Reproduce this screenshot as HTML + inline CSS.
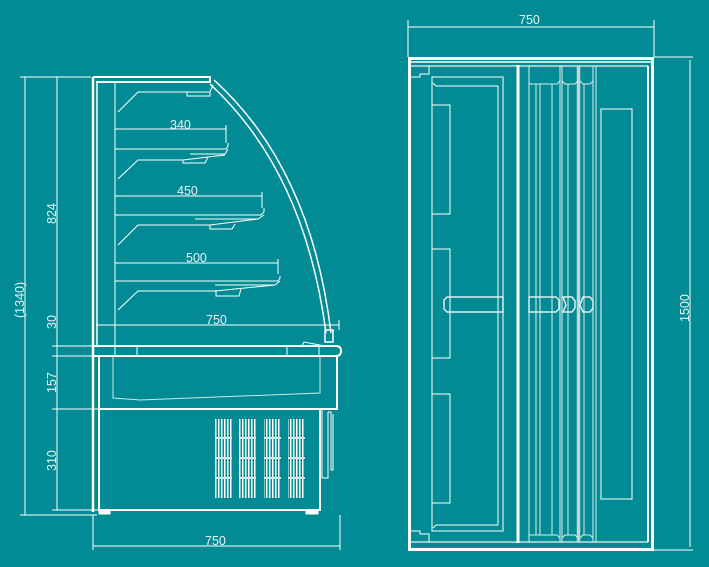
<!DOCTYPE html>
<html><head><meta charset="utf-8"><style>
html,body{margin:0;padding:0;background:#028b94;}
svg{display:block}
text{font-family:"Liberation Sans",sans-serif;font-size:12.5px;fill:#e8f4f4;}
</style></head><body>
<svg width="709" height="567" viewBox="0 0 709 567" xmlns="http://www.w3.org/2000/svg">
<defs>
<pattern id="gr" x="215" y="0" width="3" height="10" patternUnits="userSpaceOnUse">
<rect x="0" y="0" width="1.5" height="10" fill="#fff"/>
</pattern>
</defs>
<rect width="709" height="567" fill="#028b94"/>
<g stroke="#fff" fill="none" stroke-width="1">
<line x1="25" y1="77" x2="25" y2="515"/>
<line x1="20" y1="77" x2="91" y2="77"/>
<line x1="20" y1="515" x2="97" y2="515"/>
<line x1="57" y1="77" x2="57" y2="510"/>
<line x1="52" y1="346" x2="93" y2="346"/>
<line x1="52" y1="356" x2="93" y2="356"/>
<line x1="52" y1="409" x2="99" y2="409"/>
<line x1="52" y1="510" x2="99" y2="510"/>
<line x1="93" y1="515" x2="93" y2="550"/>
<line x1="340" y1="515" x2="340" y2="550"/>
<line x1="93" y1="546" x2="340" y2="546"/>
<path d="M93,77 H210 V82 H96" stroke-width="2"/>
<line x1="93" y1="77" x2="93" y2="512" stroke-width="2.5"/>
<line x1="97" y1="82" x2="97" y2="346" stroke-width="1.5"/>
<line x1="115" y1="82" x2="115" y2="356"/>
<path d="M214,80 Q311,168 331,333" stroke-width="1.5"/>
<path d="M210,84 Q305,172 326,333" stroke-width="1.5"/>
<rect x="325" y="330" width="8" height="12" stroke-width="1.5"/>
<path d="M118,112 L138,92 H210 L213,85"/>
<rect x="187" y="92" width="23" height="4"/>
<path d="M115,149 H226 L228,146 V143 M228,149 L225,154 H190"/>
<path d="M118,179 L138,160 H183 L225,155"/>
<path d="M183,160 V163 H205 L208,157"/>
<line x1="115" y1="129" x2="226" y2="129"/><line x1="226" y1="125" x2="226" y2="143"/>
<path d="M115,215 H261 L264,212 V208 M264,215 L258,219 H195"/>
<path d="M115,215 V245 M118,245 L138,225 H210 L258,219"/>
<path d="M210,225 V229 H232 L235,224"/>
<line x1="115" y1="196" x2="262" y2="196"/><line x1="262" y1="192" x2="262" y2="208"/>
<path d="M115,281 H278 L280,278 V276 M280,281 L275,285 H215"/>
<path d="M118,310 L138,291 H215 L275,285"/>
<path d="M216,290 V296 H239 L241,289"/>
<line x1="115" y1="263" x2="278" y2="263"/><line x1="278" y1="259" x2="278" y2="274"/>
<line x1="96" y1="325" x2="339" y2="325"/><line x1="339" y1="320" x2="339" y2="330"/>
<path d="M93,346 H336 Q341,346 341,351 Q341,356 336,356 H93" stroke-width="2"/>
<line x1="115" y1="346" x2="115" y2="356"/><line x1="137" y1="346" x2="137" y2="356"/>
<line x1="287" y1="346" x2="287" y2="356"/><line x1="319" y1="346" x2="319" y2="356"/>
<path d="M302,346 L304,342 L325,346"/>
<path d="M99,356 V409 H337 V356" stroke-width="2"/>
<path d="M113,356 V398 L140,400 L320,393 V356" stroke="#cfe8e8"/>
<rect x="99" y="409" width="221" height="101" stroke-width="2"/>
<rect x="99" y="510" width="11" height="4" fill="#fff"/>
<rect x="306" y="510" width="12" height="4" fill="#fff"/>
<path d="M320,409 V478 M322,409 V478 H328 V412 M328,412 H331 V470 H333 V414"/>
</g>
<g>
<rect x="215" y="419" width="17" height="79" fill="url(#gr)"/>
<rect x="239" y="419" width="17" height="79" fill="url(#gr)"/>
<rect x="264" y="419" width="17" height="79" fill="url(#gr)"/>
<rect x="288" y="419" width="17" height="79" fill="url(#gr)"/>
<g fill="#cfe8e8">
<rect x="215" y="437" width="90" height="2"/><rect x="215" y="457" width="90" height="2"/><rect x="215" y="477" width="90" height="2"/>
</g>
<g fill="#028b94"><rect x="232" y="419" width="7" height="79"/><rect x="256" y="419" width="8" height="79"/><rect x="281" y="419" width="7" height="79"/></g>
</g>
<text x="170" y="129">340</text>
<text x="177" y="195">450</text>
<text x="186" y="262">500</text>
<text x="206" y="324">750</text>
<text x="205" y="545">750</text>
<text transform="translate(56,224) rotate(-90)">824</text>
<text transform="translate(56,329) rotate(-90)">30</text>
<text transform="translate(56,393) rotate(-90)">157</text>
<text transform="translate(56,471) rotate(-90)">310</text>
<text transform="translate(24,318) rotate(-90)">(1340)</text>

<g stroke="#fff" fill="none" stroke-width="1">
<line x1="408" y1="20" x2="408" y2="57"/><line x1="654" y1="20" x2="654" y2="57"/>
<line x1="408" y1="27" x2="654" y2="27"/>
<line x1="654" y1="57" x2="693" y2="57"/><line x1="654" y1="550" x2="693" y2="550"/>
<line x1="690" y1="60" x2="690" y2="547"/>
<rect x="409.5" y="58.5" width="243" height="491" stroke-width="3"/>
<line x1="410" y1="62" x2="652" y2="62" stroke-width="1.5"/>
<line x1="410" y1="66" x2="648" y2="66" stroke="#c8dede" stroke-width="1.5"/>
<line x1="410" y1="542" x2="648" y2="542" stroke="#c8dede" stroke-width="1.5"/>
<line x1="648" y1="66" x2="648" y2="542" stroke-width="2"/>
<line x1="518" y1="65" x2="518" y2="543" stroke-width="3"/>
<path d="M410,77 H420 V74 H429 V66"/>
<path d="M410,531 H420 V534 H429 V542"/>
<rect x="432" y="77" width="71" height="454"/>
<path d="M433,83 L436,86 H498 V525 H436 L433,528"/>
<rect x="432" y="105" width="18" height="109"/>
<rect x="432" y="249" width="18" height="109"/>
<rect x="432" y="394" width="18" height="109"/>
<path d="M447,297 H503 V312 H447 L444,309 V300 Z" stroke-width="1.5" stroke="#e0eeee"/>
<g stroke="#e0eeee">
<line x1="529" y1="66" x2="529" y2="542"/>
<line x1="536" y1="84" x2="536" y2="535"/>
<line x1="540" y1="84" x2="540" y2="535"/>
<line x1="552" y1="84" x2="552" y2="535"/>
<line x1="560" y1="66" x2="560" y2="542"/>
<line x1="562" y1="66" x2="562" y2="542"/>
<line x1="568" y1="84" x2="568" y2="535"/>
<line x1="584" y1="84" x2="584" y2="535"/>
<line x1="593" y1="66" x2="593" y2="542"/>
<line x1="596" y1="66" x2="596" y2="542"/>
<line x1="578.5" y1="66" x2="578.5" y2="542" stroke="#c8d4d4" stroke-width="3.5"/>
<path d="M529,84 H557 L560,81 M562,81 L565,84 H575 L578,81 M580,81 L583,84 H590 L593,81"/>
<path d="M529,535 H557 L560,538 M562,538 L565,535 H575 L578,538 M580,538 L583,535 H590 L593,538"/>
<path d="M529,297 H556 L559,300 V309 L556,312 H529 Z M563,297 H572 L575,301 V308 L572,312 H563 L566,305 Z M583,297 H590 L593,301 V308 L590,312 H583 L580,305 Z" stroke-width="1.5"/>
</g>
<rect x="601" y="109" width="31" height="390"/>
</g>
<text x="519" y="24">750</text>
<text transform="translate(689,322) rotate(-90)">1500</text>
</svg>
</body></html>
